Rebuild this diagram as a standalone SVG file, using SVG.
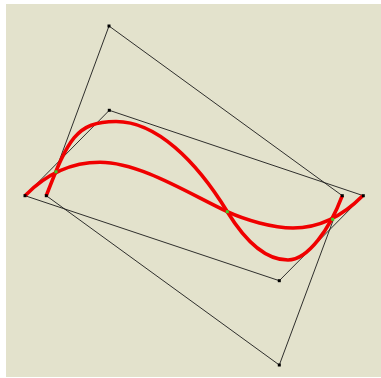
<svg xmlns="http://www.w3.org/2000/svg" width="381" height="378" viewBox="0 0 381 378">
<style>
.poly{fill:none;stroke:#1a1a1a;stroke-width:0.9}
.curve{fill:none;stroke:#f00000;stroke-width:3.6;stroke-linecap:butt;stroke-linejoin:round}
.vtx{fill:#000}
.hit{fill:#3bd12a}
</style>
<rect x="0" y="0" width="381" height="378" fill="#ffffff"/>
<rect x="6" y="4" width="375" height="373" fill="#e3e2cc"/>
<g id="control-polygons">
<polygon class="poly" points="46.3,195.7 109,26 342.3,195.7 279.3,365"/>
<polygon class="poly" points="25,195.7 109.3,110.3 363.3,195.7 279.3,280.7"/>
</g>
<g id="curves">
<path id="curve-a" class="curve" d="M46.3,195.7 C67.9,139.9 76,121.5 116,121.5 C156,121.5 196,160.5 227.3,211.7 C243,237.3 263,260 288,260 C308,260 330,228.5 342.3,195.7"/>
<path id="curve-b" class="curve" d="M25,195.7 C46,174.3 70,162.3 100,162.3 C140,162.3 191,194.9 227.3,211.7 C245.4,220.1 273,228 293,228 C323,228 345.1,213.4 362.7,195.7"/>
</g>
<g id="points">
<rect class="vtx" x="107.5" y="24.5" width="3" height="3"/>
<rect class="vtx" x="44.8" y="194.2" width="3" height="3"/>
<rect class="vtx" x="340.8" y="194.2" width="3" height="3"/>
<rect class="vtx" x="277.8" y="363.5" width="3" height="3"/>
<rect class="vtx" x="23.5" y="194.2" width="3" height="3"/>
<rect class="vtx" x="107.8" y="108.8" width="3" height="3"/>
<rect class="vtx" x="361.8" y="194.2" width="3" height="3"/>
<rect class="vtx" x="277.8" y="279.2" width="3" height="3"/>
<rect class="hit" x="54.5" y="170.3" width="3" height="3"/>
<rect class="hit" x="225.8" y="210.2" width="3" height="3"/>
<rect class="hit" x="331.2" y="217.8" width="3" height="3"/>
</g>
</svg>
